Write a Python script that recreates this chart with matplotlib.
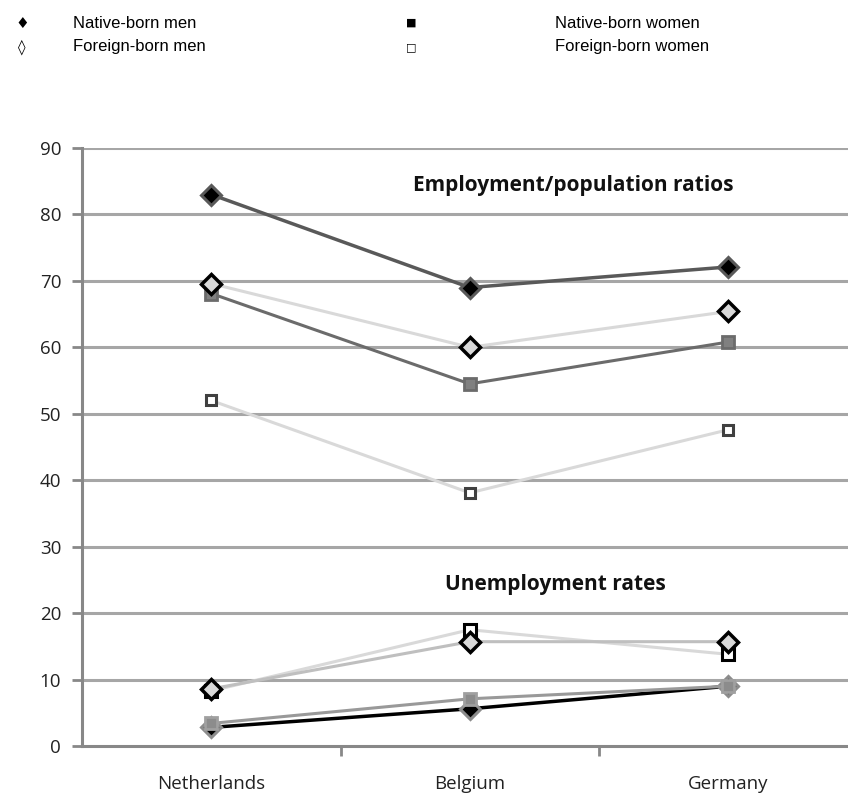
import matplotlib
matplotlib.use("Agg")
import matplotlib.pyplot as plt
from matplotlib.ticker import FixedLocator, NullFormatter

countries = ["Netherlands", "Belgium", "Germany"]
emp_native_men = [83.0, 69.0, 72.1]
emp_foreign_men = [69.6, 60.0, 65.4]
emp_native_women = [68.1, 54.5, 60.8]
emp_foreign_women = [52.0, 38.1, 47.6]
unemp_native_men = [2.8, 5.6, 9.0]
unemp_foreign_men = [8.6, 15.7, 15.7]
unemp_native_women = [3.4, 7.1, 9.0]
unemp_foreign_women = [8.3, 17.5, 13.8]
yticks = [0, 10, 20, 30, 40, 50, 60, 70, 80, 90]
legend_labels = ["Native-born men", "Foreign-born men", "Native-born women", "Foreign-born women"]
legend_symbols = ["\u2666", "\u25ca", "\u25a0", "\u25a1"]

fig = plt.figure(figsize=(8.48, 7.93), dpi=100)
ax = fig.add_axes([82/848, 47/793, (848-82)/848, (746-148)/793])

x = list(range(len(countries)))
tick_font = "Open Sans"

for v in yticks[1:]:
    ax.axhline(v, color="#a6a6a6", lw=2.2, zorder=0)

# Employment series
ax.plot(x, emp_foreign_women, color="#d9d9d9", lw=2.2, zorder=2,
        marker="s", ms=7, mfc="white", mec="#404040", mew=2.2)
ax.plot(x, emp_native_women, color="#6b6b6b", lw=2.2, zorder=3,
        marker="s", ms=8, mfc="#808080", mec="#6b6b6b", mew=2)
ax.plot(x, emp_foreign_men, color="#d9d9d9", lw=2.2, zorder=4,
        marker="D", ms=10, mfc="#d9d9d9", mec="black", mew=2.5)
ax.plot(x, emp_native_men, color="#595959", lw=2.5, zorder=5,
        marker="D", ms=10, mfc="black", mec="#595959", mew=2.2)

# Unemployment series
ax.plot(x, unemp_foreign_women, color="#d9d9d9", lw=2.2, zorder=3,
        marker="s", ms=8, mfc="white", mec="black", mew=2.2)
ax.plot(x, unemp_foreign_men, color="#bfbfbf", lw=2.2, zorder=4,
        marker="D", ms=10, mfc="#d9d9d9", mec="black", mew=2.5)
ax.plot(x, unemp_native_men, color="black", lw=2.5, zorder=3,
        marker="D", ms=10, mfc="black", mec="#8c8c8c", mew=2.2)
ax.plot(x, unemp_native_women, color="#999999", lw=2.2, zorder=4,
        marker="s", ms=8, mfc="#8c8c8c", mec="#a0a0a0", mew=2)

ax.set_ylim(0, 90)
ax.set_xlim(-0.5, -0.5 + (848-82)/258.5)
ax.set_yticks(yticks)
ax.set_yticklabels([str(v) for v in yticks], fontsize=13.5, family=tick_font, color="#222222")
ax.xaxis.set_major_locator(FixedLocator([0.5, 1.5]))
ax.xaxis.set_major_formatter(NullFormatter())
ax.xaxis.set_minor_locator(FixedLocator(x))
ax.set_xticklabels(countries, minor=True, fontsize=13.5, family=tick_font, color="#222222")
ax.tick_params(axis="x", which="minor", length=0, pad=21)
ax.tick_params(axis="x", which="major", length=7, width=2, color="#888888", direction="out")
ax.tick_params(axis="y", length=7, width=2, color="#888888", direction="out", pad=8)

for s in ["top", "right"]:
    ax.spines[s].set_visible(False)
for s in ["left", "bottom"]:
    ax.spines[s].set_color("#888888")
    ax.spines[s].set_linewidth(2.2)

ax.text(1.4, 84.3, "Employment/population ratios", ha="center", va="center",
        fontsize=15, fontweight="bold", family=tick_font, color="#111111")
ax.text(1.33, 24.3, "Unemployment rates", ha="center", va="center",
        fontsize=15, fontweight="bold", family=tick_font, color="#111111")

# Legend as text at top
pos = [(22, 73, 23), (22, 73, 47), (411, 555, 23), (411, 555, 47)]
for (sx, lx, yy), sym, lab in zip(pos, legend_symbols, legend_labels):
    fs_sym = 8 if sym in ("\u25a0", "\u25a1") else 11
    fig.text(sx/848, 1 - yy/793, sym, ha="center", va="center", fontsize=fs_sym,
             family="DejaVu Sans", color="black")
    fig.text(lx/848, 1 - yy/793, lab, ha="left", va="center", fontsize=12,
             family="Liberation Sans", color="black")

fig.savefig("out.png", dpi=100)
